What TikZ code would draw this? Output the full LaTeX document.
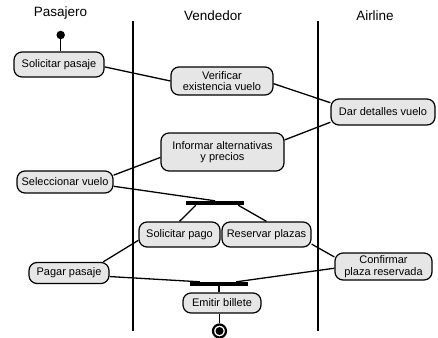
\documentclass[tikz,border=0pt]{standalone}
\usepackage{fontspec}
\setmainfont{Liberation Sans}
\usetikzlibrary{calc}
\definecolor{actfill}{HTML}{E6E6E6}
\tikzset{
  act/.style={draw=black, line width=1.2pt, fill=actfill, rounded corners=8pt,
    inner sep=1pt, align=center, font=\fontsize{11}{11.5}\selectfont},
  bar/.style={fill=black, minimum height=4pt, inner sep=0pt, draw=none},
  conn/.style={line width=1.3pt},
  lane/.style={line width=1.3pt},
  hdr/.style={font=\fontsize{13.5}{14}\selectfont, anchor=base},
}
\begin{document}
\begin{tikzpicture}[x=1pt,y=-1pt]
\useasboundingbox (0,0) rectangle (438,337);
% headers
\node[hdr] (hp) at (60.5,17) {Pasajero};
\node[hdr] (hv) at (213,21) {Vendedor};
\node[hdr] (ha) at (375,21) {Airline};
% lanes
\coordinate (l1t) at (133,21); \coordinate (l1b) at (133,331);
\coordinate (l2t) at (318,21); \coordinate (l2b) at (318,331);
\draw[lane] (l1t) -- (l1b);
\draw[lane] (l2t) -- (l2b);
% start
\node[circle, fill=black, inner sep=0pt, minimum size=8.5pt] (start) at (60.7,35) {};
% activities
\node[act, minimum width=90pt, minimum height=25pt] (sp) at (59,64.5) {Solicitar pasaje};
\node[act, minimum width=102pt, minimum height=28pt] (vev) at (222,81) {Verificar\\existencia vuelo};
\node[act, minimum width=104pt, minimum height=26pt] (ddv) at (383,112) {Dar detalles vuelo};
\node[act, minimum width=123pt, minimum height=38pt] (iap) at (222.5,152) {Informar alternativas\\y precios};
\node[act, minimum width=96pt, minimum height=22pt] (sv) at (65,182) {Seleccionar vuelo};
\node[bar, minimum width=58pt] (bar1) at (215,203) {};
\node[act, minimum width=81pt, minimum height=25pt] (spg) at (179.5,234.5) {Solicitar pago};
\node[act, minimum width=89pt, minimum height=25pt] (rp) at (266.5,234.5) {Reservar plazas};
\node[act, minimum width=97pt, minimum height=27pt] (cpr) at (383.5,266.5) {Confirmar\\plaza reservada};
\node[act, minimum width=80pt, minimum height=21pt] (pp) at (69,273) {Pagar pasaje};
\node[bar, minimum width=58pt] (bar2) at (219,284) {};
\node[act, minimum width=78pt, minimum height=20pt] (eb) at (222,303) {Emitir billete};
% end
\node[circle, draw=black, line width=2.2pt, fill=white, inner sep=0pt, minimum size=13pt] (end) at (219.5,331) {};
\node[circle, fill=black, inner sep=0pt, minimum size=8pt] (endin) at (end.center) {};
% connectors
\draw[conn] (start) -- (sp.north -| start);
\draw[conn] (sp.357) -- (vev.west);
\draw[conn] (vev.357) -- (ddv.170);
\draw[conn] (ddv.191) -- (iap.11);
\draw[conn] (iap.185) -- (sv.8);
\draw[conn] (sv.355) -- (bar1.north);
\draw[conn] ($(bar1.south west)+(10,0)$) -- (spg.north);
\draw[conn] ($(bar1.south east)+(-6,0)$) -- (rp.north);
\draw[conn] (spg.188) -- (pp.18);
\draw[conn] (rp.348) -- (cpr.169);
\draw[conn] (pp.355) -- ($(bar2.north west)+(10,0)$);
\draw[conn] (cpr.182) -- ($(bar2.north east)+(-12,0)$);
\draw[conn] (bar2.south) -- (bar2.south |- eb.north);
\draw[conn] (eb.south -| end) -- (end.north);
\end{tikzpicture}
\end{document}
